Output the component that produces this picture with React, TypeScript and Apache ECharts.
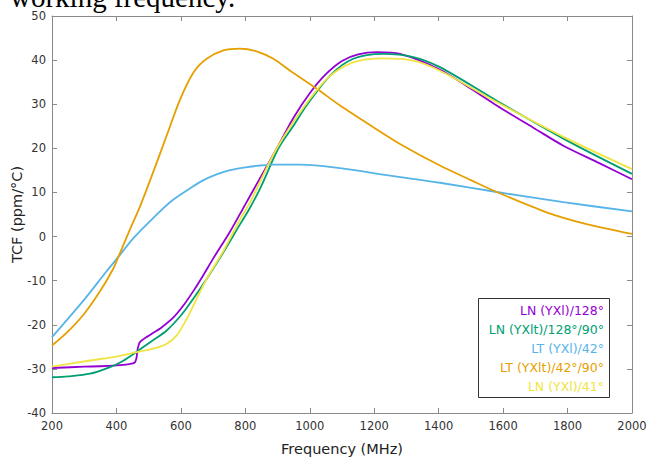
import React, { useEffect, useRef } from "react";
import * as echarts from "echarts";

const xTicks = { min: 200, max: 2000, interval: 200 };
const yTicks = { min: -40, max: 50, interval: 10 };

const names = [
  "LN (YXl)/128°",
  "LN (YXlt)/128°/90°",
  "LT (YXl)/42°",
  "LT (YXlt)/42°/90°",
  "LN (YXl)/41°",
];
const colors = ["#9400d3", "#009e73", "#56b4e9", "#e69f00", "#f0e442"];

const purpleFreq = [200, 300, 350, 400, 440, 456, 462, 466, 472, 485, 504, 540, 576, 610, 640, 670, 700, 750, 800, 850, 900, 950, 1000, 1050, 1100, 1150, 1210, 1280, 1400, 1500, 1580, 1700, 1787, 1900, 2000];
const purpleTcf = [-29.8, -29.5, -29.4, -29.2, -28.9, -28.6, -27.6, -25.4, -24.0, -23.2, -22.3, -20.6, -18.4, -15.4, -12.2, -8.7, -5.0, 0.8, 7.3, 13.8, 20.3, 27.0, 32.5, 36.8, 39.8, 41.3, 41.8, 41.4, 38.0, 33.5, 29.7, 24.4, 20.6, 16.6, 13.0];

const greenFreq = [200, 250, 318, 380, 420, 463, 510, 556, 600, 628, 680, 730, 783, 815, 850, 902, 950, 990, 1063, 1135, 1228, 1321, 1404, 1580, 1787, 2000];
const greenTcf = [-31.9, -31.7, -31.1, -29.6, -28.2, -26.1, -23.7, -21.3, -17.9, -15.2, -9.6, -3.8, 2.7, 6.6, 11.5, 19.9, 25.2, 29.7, 36.5, 40.3, 41.4, 40.7, 38.4, 30.8, 22.2, 14.2];

const blueFreq = [200, 300, 370, 406, 452, 514, 570, 628, 670, 711, 750, 800, 887, 970, 1094, 1249, 1404, 1580, 1787, 2000];
const blueTcf = [-22.8, -14.3, -7.8, -4.6, -0.4, 4.2, 8.0, 10.9, 12.8, 14.1, 15.0, 15.7, 16.3, 16.3, 15.5, 13.8, 12.2, 10.1, 7.8, 5.7];

const orangeFreq = [200, 250, 300, 350, 390, 406, 440, 473, 514, 556, 597, 639, 680, 732, 783, 835, 887, 939, 1022, 1094, 1197, 1280, 1404, 1500, 1580, 1735, 1850, 2000];
const orangeTcf = [-24.7, -21.5, -17.5, -12.3, -7.3, -4.6, 1.3, 6.8, 14.6, 22.9, 31.0, 37.2, 40.3, 42.2, 42.6, 42.0, 40.3, 37.6, 33.5, 29.7, 24.8, 21.0, 16.1, 12.8, 10.1, 5.5, 3.0, 0.6];

const yellowFreq = [200, 318, 400, 463, 520, 556, 587, 618, 649, 680, 730, 783, 815, 897, 985, 1058, 1135, 1228, 1321, 1404, 1580, 1787, 2000];
const yellowTcf = [-29.5, -28.1, -27.2, -26.2, -25.3, -24.3, -22.4, -18.7, -14.1, -9.6, -3.5, 3.8, 7.8, 19.9, 29.7, 36.1, 39.5, 40.4, 39.9, 37.6, 30.5, 22.6, 15.3];

const seriesFreq = [purpleFreq, greenFreq, blueFreq, orangeFreq, yellowFreq];
const seriesTcf = [purpleTcf, greenTcf, blueTcf, orangeTcf, yellowTcf];

const FONT = "DejaVu Sans";
const AXIS_COLOR = "#8a8a8a";

export default function App() {
  const ref = useRef<HTMLDivElement>(null);
  useEffect(() => {
    if (!ref.current) return;
    const chart = echarts.init(ref.current, null, { renderer: "svg" });
    const axisCommon = {
      type: "value" as const,
      axisLine: { show: true, onZero: false, lineStyle: { color: AXIS_COLOR, width: 1 } },
      axisTick: { show: true, inside: true, length: 5, lineStyle: { color: AXIS_COLOR } },
      splitLine: { show: false },
    };
    const legendRows = names.map((n, i) => ({
      type: "text",
      style: {
        text: n,
        x: 604,
        y: 310 + i * 19.2,
        fill: colors[i],
        fontSize: 12.5,
        fontFamily: FONT,
        align: "right",
        verticalAlign: "middle",
      },
      z: 101,
    }));
    chart.setOption({
      animation: false,
      backgroundColor: "#ffffff",
      grid: { left: 52, top: 16, width: 580, height: 397, containLabel: false, outerBoundsMode: "none" },
      xAxis: [
        {
          ...axisCommon,
          position: "bottom",
          ...xTicks,
          name: "Frequency (MHz)",
          nameLocation: "middle",
          nameGap: 28,
          nameMoveOverlap: false,
          nameTextStyle: { fontFamily: FONT, fontSize: 14.5, color: "#222" },
          axisLabel: { show: true, margin: 7, fontFamily: FONT, fontSize: 11.5, color: "#333", formatter: (v: number) => String(v) },
        },
        {
          ...axisCommon,
          position: "top",
          ...xTicks,
          axisLabel: { show: false },
        },
      ],
      yAxis: [
        {
          ...axisCommon,
          position: "left",
          ...yTicks,
          name: "TCF (ppm/°C)",
          nameLocation: "middle",
          nameGap: 28,
          nameMoveOverlap: false,
          nameTextStyle: { fontFamily: FONT, fontSize: 14.5, color: "#222" },
          axisLabel: { show: true, margin: 6, fontFamily: FONT, fontSize: 11.5, color: "#333", formatter: (v: number) => String(v) },
        },
        {
          ...axisCommon,
          position: "right",
          ...yTicks,
          axisLabel: { show: false },
        },
      ],
      series: names.map((n, i) => ({
        name: n,
        type: "line",
        xAxisIndex: 0,
        yAxisIndex: 0,
        data: seriesFreq[i].map((f, j) => [f, seriesTcf[i][j]]),
        showSymbol: false,
        symbol: "none",
        smooth: 0.3,
        lineStyle: { color: colors[i], width: 1.8 },
        itemStyle: { color: colors[i] },
        z: 2 + i,
      })),
      graphic: [
        {
          type: "text",
          style: {
            text: "working frequency.",
            x: 10,
            y: -3,
            fill: "#000",
            fontSize: 29,
            fontFamily: "Liberation Serif",
            align: "left",
            verticalAlign: "middle",
          },
          z: 100,
        },
        {
          type: "rect",
          shape: { x: 478.5, y: 298.5, width: 131, height: 99 },
          style: { fill: "#fff", stroke: "#333", lineWidth: 1 },
          z: 100,
        },
        ...legendRows,
      ],
    });
    return () => chart.dispose();
  }, []);
  return (
    <div
      ref={ref}
      style={{ position: "fixed", left: 0, top: 0, width: 647, height: 457, background: "#fff" }}
    />
  );
}
